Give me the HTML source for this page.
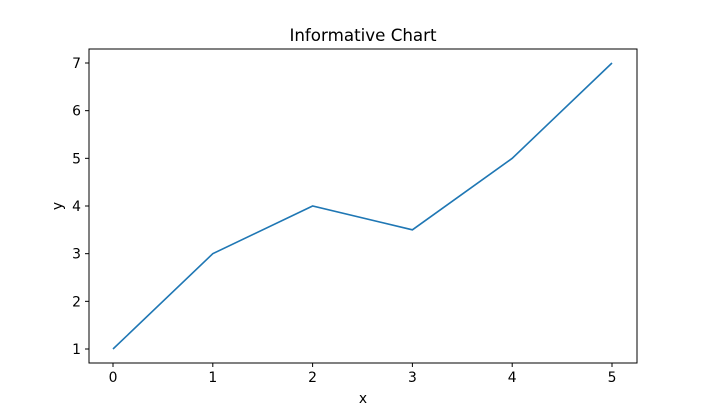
<!DOCTYPE html>
<html><head><meta charset="utf-8"><style>
body{margin:0;background:#fff;}
svg text{font-family:"DejaVu Sans","Liberation Sans",sans-serif;fill:#000;}
</style></head><body>
<svg id="chart" width="708" height="408" xmlns="http://www.w3.org/2000/svg">
<rect width="708" height="408" fill="#fff"/>
<text x="363" y="41" font-size="16.7" text-anchor="middle">Informative Chart</text>
<g id="axes"></g>
<text x="363" y="403" font-size="13.9" text-anchor="middle">x</text>
<text x="62" y="206" font-size="13.9" text-anchor="middle" transform="rotate(-90 62 206)">y</text>
</svg>
<script>
const xValues=[0,1,2,3,4,5];
const yValues=[1,3,4,3.5,5,7];
const xTicks=[0,1,2,3,4,5];
const yTicks=[1,2,3,4,5,6,7];
const L=89,R=637,T=49,B=363;
function sx(v){return 113+(v-0)*(612-113)/5;}
function sy(v){return 349-(v-1)*(349-63)/6;}
const NS="http://www.w3.org/2000/svg";
const g=document.getElementById('axes');
function el(t,a){const e=document.createElementNS(NS,t);for(const k in a)e.setAttribute(k,a[k]);g.appendChild(e);return e;}
const frame=el('rect',{x:L,y:T,width:R-L,height:B-T,fill:'none',stroke:'#000','stroke-width':1});


xTicks.forEach(v=>{const x=sx(v);
const t=el('line',{x1:x,x2:x,y1:B,y2:B+4,stroke:'#000'});


const l=el('text',{x:x,y:B+19,'font-size':13.9,'text-anchor':'middle'});l.textContent=v;

});
yTicks.forEach(v=>{const y=sy(v);
const t=el('line',{x1:L-4,x2:L,y1:y,y2:y,stroke:'#000'});


const l=el('text',{x:L-8,y:y+5,'font-size':13.9,'text-anchor':'end'});l.textContent=v;

});
const p=el('polyline',{points:xValues.map((x,i)=>sx(x)+','+sy(yValues[i])).join(' '),fill:'none',stroke:'#1f77b4','stroke-width':1.6});


</script>
</body></html>
